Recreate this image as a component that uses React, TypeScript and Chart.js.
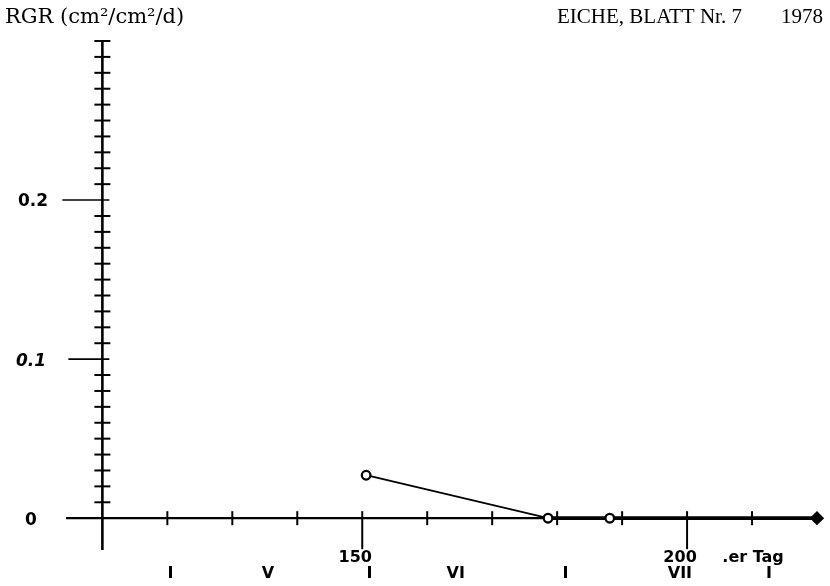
import { useEffect, useRef } from "react";
import { Chart, registerables } from "chart.js";
Chart.register(...registerables);

// ---- data ----
const rgrDays = [150.6, 178.6, 188.1];
const rgrValues = [0.027, 0, 0];
const zeroLineDays = [178.6, 220];
const zeroLineValues = [0, 0];

const xTickDays = [120, 130, 140, 150, 160, 170, 180, 190, 200, 210];
const xLabeledDays = [150, 200];
const xLabels = ["150", "200"];
const monthStartDays = [120.5, 151.1, 181.3, 212.6];
const monthNames = ["V", "VI", "VII"];
const monthNameDays = [135.5, 164.4, 198.9];

const yMajorValues = [0, 0.1, 0.2];
const yMajorLabels = ["0", "0.1", "0.2"];
const yMinorStep = 0.01;
const yAxisTop = 0.3;
const yAxisBottom = -0.02;
const xAxisStart = 104.4;
const xAxisEnd = 220;
const yAxisDay = 110;

const titleLeft = "RGR (cm²/cm²/d)";
const titleRight = "EICHE, BLATT Nr. 7";
const titleYear = "1978";
const unitLabel = ".er Tag";

const axesPlugin = {
  id: "handAxes",
  beforeDatasetsDraw(chart: any) {
    const ctx = chart.ctx as CanvasRenderingContext2D;
    const xs = chart.scales.x;
    const ys = chart.scales.y;
    const X = (v: number) => xs.getPixelForValue(v);
    const Y = (v: number) => ys.getPixelForValue(v);
    ctx.save();
    ctx.strokeStyle = "#000";
    ctx.fillStyle = "#000";
    ctx.lineCap = "butt";

    const ax = X(yAxisDay);
    const y0 = Y(0);

    // y axis
    ctx.lineWidth = 2.6;
    ctx.beginPath();
    ctx.moveTo(ax, Y(yAxisBottom));
    ctx.lineTo(ax, Y(yAxisTop));
    ctx.stroke();

    // minor ticks
    ctx.lineWidth = 2;
    const n = Math.round(yAxisTop / yMinorStep);
    for (let i = 1; i <= n; i++) {
      const v = i * yMinorStep;
      if (i % 10 === 0 && i < n) continue;
      const py = Y(v);
      ctx.beginPath();
      ctx.moveTo(ax - 8, py);
      ctx.lineTo(ax + 8, py);
      ctx.stroke();
    }
    // major ticks
    ctx.lineWidth = 1.6;
    yMajorValues.forEach((v) => {
      if (v === 0) return;
      const py = Y(v);
      ctx.beginPath();
      ctx.moveTo(ax - (v > 0.15 ? 40 : 34), py);
      ctx.lineTo(ax + 7, py);
      ctx.stroke();
    });

    // x axis
    ctx.lineWidth = 2.2;
    ctx.beginPath();
    ctx.moveTo(X(xAxisStart), y0);
    ctx.lineTo(X(xAxisEnd), y0);
    ctx.stroke();

    // x ticks
    ctx.lineWidth = 2;
    xTickDays.forEach((d) => {
      const px = X(d);
      const long = xLabeledDays.indexOf(d) >= 0;
      ctx.beginPath();
      ctx.moveTo(px, y0 - 7);
      ctx.lineTo(px, long ? y0 + 31 : y0 + 7);
      ctx.stroke();
    });

    // y labels
    ctx.textBaseline = "middle";
    ctx.textAlign = "center";
    yMajorValues.forEach((v, i) => {
      const py = Y(v);
      ctx.font = v === 0.1 ? "italic bold 17px 'DejaVu Sans'" : "bold 17px 'DejaVu Sans'";
      const cx = v === 0 ? 31 : v === 0.1 ? 31 : 33;
      ctx.fillText(yMajorLabels[i], cx, py + 2);
    });

    // x labels
    ctx.font = "bold 16px 'DejaVu Sans'";
    xLabels.forEach((t, i) => {
      ctx.fillText(t, X(xLabeledDays[i]) - 7, y0 + 40);
    });
    ctx.fillText(unitLabel, X(xLabeledDays[1]) + 66, y0 + 40);

    // month marks & names
    ctx.font = "bold 16px 'DejaVu Sans'";
    monthStartDays.forEach((d) => {
      ctx.fillText("I", X(d), y0 + 56);
    });
    monthNames.forEach((t, i) => {
      ctx.fillText(t, X(monthNameDays[i]), y0 + 56);
    });

    // titles
    ctx.textAlign = "left";
    ctx.textBaseline = "alphabetic";
    ctx.font = "21px 'DejaVu Serif'";
    ctx.fillText(titleLeft, 5, 23);
    ctx.font = "21px 'Liberation Serif'";
    ctx.fillText(titleRight, 557, 23);
    ctx.textAlign = "right";
    ctx.fillText(titleYear, 823, 23);
    ctx.restore();
  },
};

export default function App() {
  const ref = useRef<HTMLCanvasElement>(null);
  useEffect(() => {
    document.body.style.margin = "0";
    const canvas = ref.current!;
    const chart = new Chart(canvas, {
      type: "scatter",
      data: {
        datasets: [
          {
            data: rgrDays.map((d, i) => ({ x: d, y: rgrValues[i] })),
            showLine: true,
            borderColor: "#000",
            borderWidth: 1.8,
            pointRadius: 4.3,
            pointBorderWidth: 2.3,
            pointBackgroundColor: "#fff",
            pointBorderColor: "#000",
            clip: false,
          } as any,
          {
            data: zeroLineDays.map((d, i) => ({ x: d, y: zeroLineValues[i] })),
            showLine: true,
            borderColor: "#000",
            borderWidth: 3.8,
            pointRadius: [0, 4.5],
            pointStyle: "rectRot",
            pointBackgroundColor: "#000",
            pointBorderColor: "#000",
            clip: false,
          } as any,
        ],
      },
      options: {
        animation: false,
        responsive: false,
        maintainAspectRatio: false,
        layout: { padding: { left: 66, right: 13, top: 41, bottom: 36 } },
        plugins: { legend: { display: false }, tooltip: { enabled: false } },
        scales: {
          x: { type: "linear", min: xAxisStart, max: xAxisEnd, display: false },
          y: { type: "linear", min: yAxisBottom, max: yAxisTop, display: false },
        },
      },
      plugins: [axesPlugin],
    });
    return () => chart.destroy();
  }, []);
  return <canvas ref={ref} width={830} height={586} style={{ display: "block" }} />;
}
